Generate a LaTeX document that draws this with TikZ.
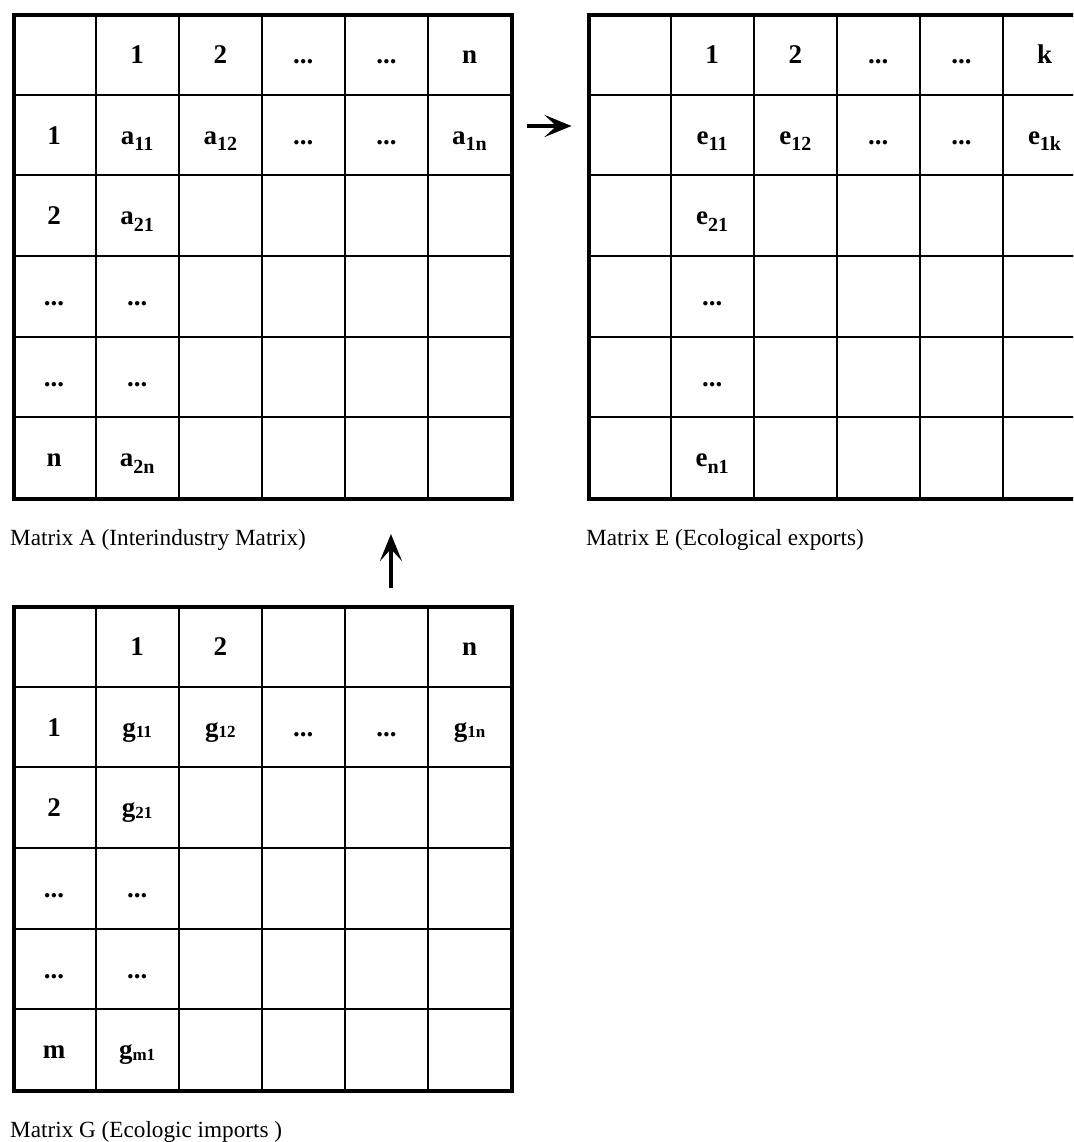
\documentclass[tikz,border=0pt]{standalone}
\usepackage{fontspec}
\setmainfont{Liberation Serif}
\usetikzlibrary{arrows.meta}
\newcommand\asub[1]{\raisebox{-6.5pt}{\fontsize{20}{20}\selectfont #1}}
\newcommand\gsub[1]{\raisebox{-1.5pt}{\fontsize{17}{17}\selectfont #1}}
\newcommand\mydots{...}
\begin{document}
\begin{tikzpicture}[x=1pt,y=-1pt,
  cell/.style={draw, line width=2pt, minimum width=83.1pt, minimum height=80.67pt,
    inner sep=0pt, anchor=north west},
  celltext/.style={inner sep=0pt, text height=18pt, text depth=0pt,
    font=\fontsize{27}{30}\selectfont\bfseries},
  frame/.style={draw, line width=4pt, minimum width=498.6pt, minimum height=484pt,
    inner sep=0pt, anchor=north west},
  captext/.style={anchor=base west, inner sep=0pt, font=\fontsize{23.2}{27}\selectfont},
  arr/.style={-{Stealth[length=27pt,width=22pt,inset=12pt]}, line width=4pt}]
\useasboundingbox (0,0) rectangle (1073,1142);
\clip (0,0) rectangle (1073,1142);
\fill[white] (0,0) rectangle (1073,1142);

% grids
\foreach \m/\ox/\oy in {A/11.5/13, E/586.5/13, G/11.5/605}{
  \foreach \r in {0,...,5}{
    \foreach \c in {0,...,5}{
      \node[cell] (\m-\r-\c) at (\ox+\c*83.1, \oy+\r*80.67) {};
    }
  }
  \node[frame] (\m) at (\ox,\oy) {};
}

% Matrix A texts
\foreach \r/\c/\t in {0/1/1, 0/2/2, 0/3/\mydots, 0/4/\mydots, 0/5/n,
  1/0/1, 1/1/a\asub{11}, 1/2/a\asub{12}, 1/3/\mydots, 1/4/\mydots, 1/5/a\asub{1n},
  2/0/2, 2/1/a\asub{21}, 3/0/\mydots, 3/1/\mydots, 4/0/\mydots, 4/1/\mydots,
  5/0/n, 5/1/a\asub{2n}}{
  \node[celltext] (At-\r-\c) at (A-\r-\c) {\t};
}

% Matrix E texts
\foreach \r/\c/\t in {0/1/1, 0/2/2, 0/3/\mydots, 0/4/\mydots, 0/5/k,
  1/1/e\asub{11}, 1/2/e\asub{12}, 1/3/\mydots, 1/4/\mydots, 1/5/e\asub{1k},
  2/1/e\asub{21}, 3/1/\mydots, 4/1/\mydots, 5/1/e\asub{n1}}{
  \node[celltext] (Et-\r-\c) at (E-\r-\c) {\t};
}

% Matrix G texts
\foreach \r/\c/\t in {0/1/1, 0/2/2, 0/5/n,
  1/0/1, 1/1/g\gsub{11}, 1/2/g\gsub{12}, 1/3/\mydots, 1/4/\mydots, 1/5/g\gsub{1n},
  2/0/2, 2/1/g\gsub{21}, 3/0/\mydots, 3/1/\mydots, 4/0/\mydots, 4/1/\mydots,
  5/0/m, 5/1/g\gsub{m1}}{
  \node[celltext] (Gt-\r-\c) at (G-\r-\c) {\t};
}

% captions
\node[captext] (capA) at (10,545) {Matrix A (Interindustry Matrix)};
\node[captext] (capE) at (586,545) {Matrix E (Ecological exports)};
\node[captext] (capG) at (10,1137) {Matrix G (Ecologic imports )};

% arrows
\draw[arr] ([xshift=15pt,yshift=9pt]A-1-5.east) -- ([xshift=-15pt,yshift=9pt]E-1-0.west);
\draw[arr] ([xshift=4.5pt,yshift=17pt]G-0-4.north) -- ([xshift=4.5pt,yshift=-35pt]A-5-4.south);
\end{tikzpicture}
\end{document}
